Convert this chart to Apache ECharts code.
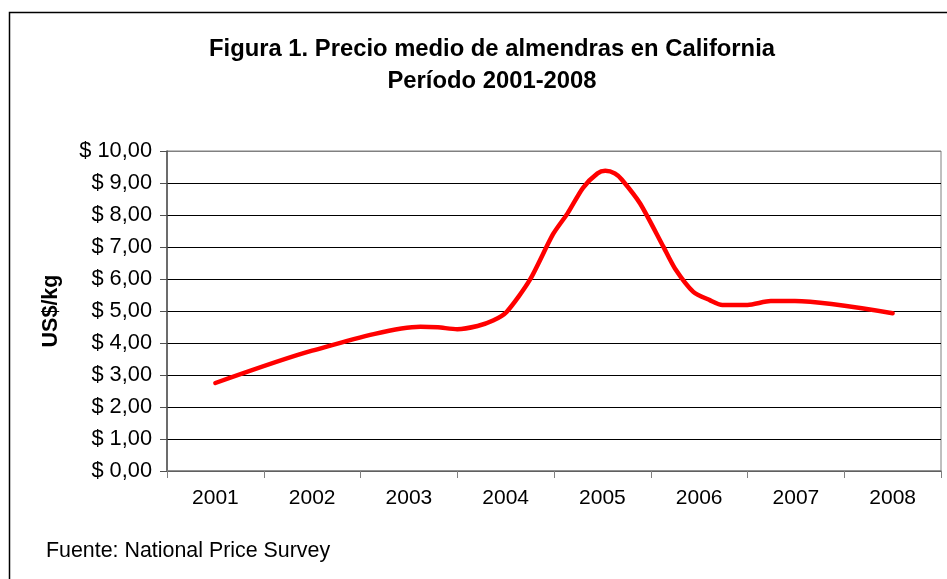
<!DOCTYPE html>
<html>
<head>
<meta charset="utf-8">
<script src="https://cdn.jsdelivr.net/npm/echarts@6/dist/echarts.min.js"></script>
<style>
html,body{margin:0;padding:0;background:#fff;}
#chart{width:947px;height:579px;}
</style>
</head>
<body>
<div id="chart"></div>
<script>
// Category labels on the x axis
var years = ['2001', '2002', '2003', '2004', '2005', '2006', '2007', '2008'];
// Price series (position in years, US$/kg)
var pointYears = [2001.00, 2002.00, 2003.12, 2003.30, 2003.50, 2003.71, 2003.87, 2004.01,
                  2004.25, 2004.49, 2004.64, 2004.80, 2004.95, 2005.03, 2005.13, 2005.20,
                  2005.39, 2005.63, 2005.75, 2005.94, 2006.11, 2006.24, 2006.50, 2006.74,
                  2006.99, 2008.00];
var pointPrices = [2.75, 3.76, 4.51, 4.49, 4.43, 4.53, 4.70, 4.97,
                   5.97, 7.40, 8.05, 8.85, 9.30, 9.38, 9.30, 9.11,
                   8.36, 7.01, 6.33, 5.60, 5.34, 5.19, 5.19, 5.31,
                   5.31, 4.93];
var yTicks = [0, 1, 2, 3, 4, 5, 6, 7, 8, 9, 10];

var seriesData = pointYears.map(function (x, i) { return [x, pointPrices[i]]; });

var FONT = '"Liberation Sans", Arial, sans-serif';
var gridColors = yTicks.map(function (v, i) { return i === yTicks.length - 1 ? '#808080' : '#000000'; });

var chart = echarts.init(document.getElementById('chart'), null, {renderer: 'canvas'});
chart.setOption({
  backgroundColor: '#ffffff',
  animation: false,
  title: {
    text: 'Figura 1. Precio medio de almendras en California\nPeríodo 2001-2008',
    left: 487, top: 28, textAlign: 'center',
    textStyle: {fontFamily: FONT, fontSize: 23.8, fontWeight: 'bold', color: '#000', lineHeight: 32}
  },
  graphic: [
    {type: 'rect', shape: {x: 9.5, y: 12.5, width: 1200, height: 1200},
     style: {fill: null, stroke: '#000', lineWidth: 1.5}, silent: true, z: 100},
    {type: 'text', left: 46, top: 541,
     style: {text: 'Fuente: National Price Survey', fontFamily: FONT, fontSize: 21.4, fill: '#000'}}
  ],
  grid: {left: 167, right: 6, top: 151, bottom: 108, show: true, borderColor: '#808080', borderWidth: 1, backgroundColor: 'transparent'},
  xAxis: [
    {
      type: 'category', data: years, boundaryGap: true,
      axisLine: {lineStyle: {color: '#808080', width: 1.5}},
      axisTick: {show: true, length: 7, lineStyle: {color: '#808080'}},
      axisLabel: {fontFamily: FONT, fontSize: 21, color: '#000', margin: 17},
      splitLine: {show: false}
    },
    {
      type: 'value', min: 2000.5, max: 2008.5, show: false, position: 'bottom',
      splitLine: {show: false}
    }
  ],
  yAxis: {
    type: 'value', min: 0, max: 10, interval: 1,
    name: 'US$/kg', nameLocation: 'middle', nameGap: 105, nameRotate: 90,
    nameTextStyle: {fontFamily: FONT, fontSize: 21.5, fontWeight: 'bold', color: '#000'},
    axisLine: {show: true, lineStyle: {color: '#505050', width: 1.5}},
    axisTick: {show: true, length: 7, lineStyle: {color: '#505050'}},
    axisLabel: {fontFamily: FONT, fontSize: 21.8, color: '#000', margin: 15,
      formatter: function (v) { return '$ ' + v.toFixed(2).replace('.', ','); }},
    splitLine: {show: true, lineStyle: {color: gridColors, width: 1}}
  },
  series: [{
    type: 'line', xAxisIndex: 1, data: seriesData, smooth: 0.25,
    showSymbol: false, symbol: 'none',
    lineStyle: {color: '#ff0000', width: 4.5, cap: 'round', join: 'round'},
    z: 5
  }]
});
</script>
</body>
</html>
